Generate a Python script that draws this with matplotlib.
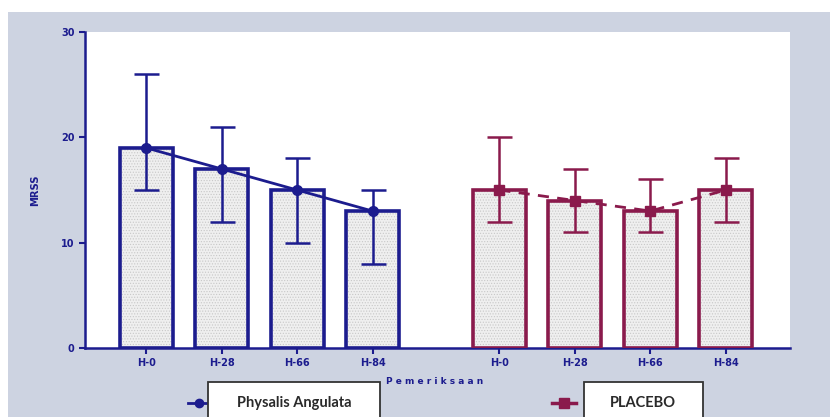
import matplotlib
matplotlib.use("Agg")
import matplotlib.pyplot as plt
from matplotlib.patches import Rectangle
from matplotlib.lines import Line2D
import numpy as np

# ---- data ----
categories = ["H-0", "H-28", "H-66", "H-84"]
physalis_mean = [19, 17, 15, 13]
physalis_low = [15, 12, 10, 8]
physalis_high = [26, 21, 18, 15]
placebo_mean = [15, 14, 13, 15]
placebo_low = [12, 11, 11, 12]
placebo_high = [20, 17, 16, 18]
yticks = [0, 10, 20, 30]

NAVY = "#1c1c8e"
MAROON = "#8a1a4c"
PANEL = "#cdd3e1"

W, H = 830, 417
fig = plt.figure(figsize=(W / 100, H / 100), dpi=100)
fig.patch.set_facecolor("white")
fig.patches.append(Rectangle((8 / W, 0), 1 - 8 / W, 1 - 12 / H,
                             transform=fig.transFigure, facecolor=PANEL,
                             edgecolor="none", zorder=-10))

ax = fig.add_axes([85 / W, 1 - 348 / H, (790 - 85) / W, (348 - 32) / H])
ax.set_facecolor("white")

x1 = np.arange(len(categories))
x2 = x1 + 4.68
bw = 0.70

def draw_group(xs, mean, low, high, color, ls, marker):
    mean = np.array(mean)
    yerr = [mean - np.array(low), np.array(high) - mean]
    ax.bar(xs, mean, width=bw, facecolor="#efefef", edgecolor="#c8c8c8",
           hatch="......", linewidth=0, zorder=2)
    ax.bar(xs, mean, width=bw, facecolor="none", edgecolor=color,
           linewidth=2.6, zorder=3)
    ax.errorbar(xs, mean, yerr=yerr, fmt="none", ecolor=color,
                elinewidth=1.8, capsize=9, capthick=1.8, zorder=4)
    ax.plot(xs, mean, color=color, lw=2.0, ls=ls, marker=marker,
            markersize=7, zorder=5)

plt.rcParams["hatch.linewidth"] = 0.5
draw_group(x1, physalis_mean, physalis_low, physalis_high, NAVY, "-", "o")
draw_group(x2, placebo_mean, placebo_low, placebo_high, MAROON, (0, (4, 3)), "s")

ax.set_ylim(0, 30)
ax.set_xlim(-0.81, 8.53)
ax.set_yticks(yticks)
ax.set_yticklabels([str(v) for v in yticks])
ax.set_xticks(np.concatenate([x1, x2]))
ax.set_xticklabels(categories + categories)

for s in ["top", "right"]:
    ax.spines[s].set_visible(False)
for s in ["left", "bottom"]:
    ax.spines[s].set_color(NAVY)
    ax.spines[s].set_linewidth(1.8)

ax.tick_params(axis="both", colors=NAVY, direction="out", length=4, width=1.5,
               labelsize=7)
ax.tick_params(axis="x", pad=3)
for lbl in ax.get_xticklabels() + ax.get_yticklabels():
    lbl.set_fontweight("bold")

fig.text(35 / W, 1 - 190 / H, "MRSS", rotation=90, ha="center", va="center",
         color=NAVY, fontsize=8, fontweight="bold", fontstretch="condensed")
fig.text(435 / W, 1 - 381 / H, "P e m e r i k s a a n", ha="center", va="center",
         color=NAVY, fontsize=6.5, fontweight="bold")

# legend boxes
fig.patches.append(Rectangle((208 / W, -0.02), (380 - 208) / W, 0.02 + 1 - 382 / H,
                             transform=fig.transFigure, facecolor="white",
                             edgecolor="#333333", linewidth=1.3, zorder=5))
fig.patches.append(Rectangle((584 / W, -0.02), (703 - 584) / W, 0.02 + 1 - 382 / H,
                             transform=fig.transFigure, facecolor="white",
                             edgecolor="#333333", linewidth=1.3, zorder=5))
fig.text(294 / W, 1 - 403 / H, "Physalis Angulata", ha="center", va="center",
         fontsize=10.5, fontweight="bold", family="Lato", color="#2a2a2a", zorder=6)
fig.text(643 / W, 1 - 403 / H, "PLACEBO", ha="center", va="center",
         fontsize=10.5, fontweight="bold", family="Lato", color="#2a2a2a", zorder=6)
fig.lines.append(Line2D([188 / W, 206 / W], [1 - 403 / H] * 2, transform=fig.transFigure,
                        color=NAVY, lw=2, marker=None))
fig.lines.append(Line2D([199 / W], [1 - 403 / H], transform=fig.transFigure,
                        color=NAVY, marker="o", markersize=6))
fig.lines.append(Line2D([552 / W, 576 / W], [1 - 403 / H] * 2, transform=fig.transFigure,
                        color=MAROON, lw=2.5))
fig.lines.append(Line2D([564 / W], [1 - 403 / H], transform=fig.transFigure,
                        color=MAROON, marker="s", markersize=7))

fig.savefig("out.png", dpi=100)
